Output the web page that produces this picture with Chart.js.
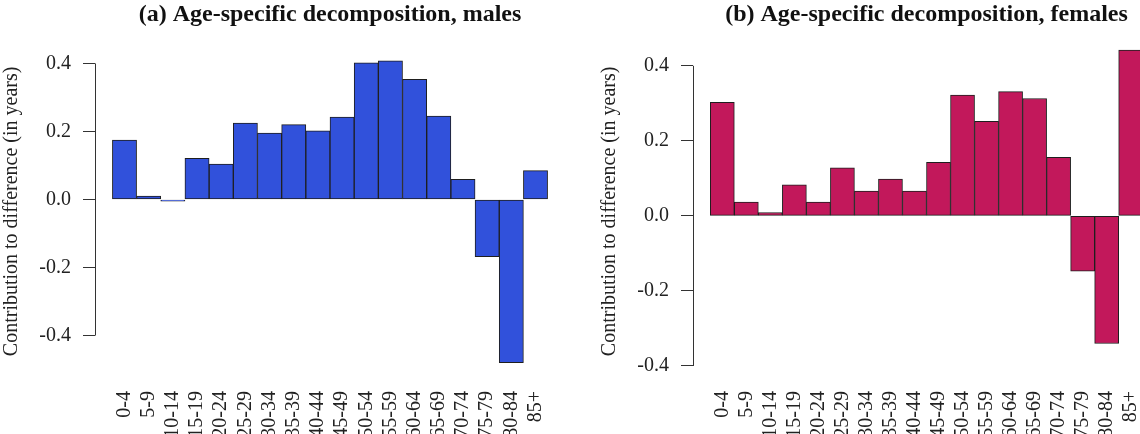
<!DOCTYPE html>
<html>
<head>
<meta charset="utf-8">
<title>Age-specific decomposition</title>
<script src="https://cdn.jsdelivr.net/npm/chart.js@4/dist/chart.umd.min.js"></script>
<style>
	html, body { margin:0; padding:0; background:#fff; overflow:hidden; width:1140px; height:434px; }
	.panel { position:absolute; top:0; height:434px; }
	#males { left:0; }
	#females { left:598px; }
</style>
</head>
<body>
<div class="panel" id="males"><canvas id="maleChart" width="580" height="434"></canvas></div>
<div class="panel" id="females"><canvas id="femaleChart" width="580" height="434"></canvas></div>
<script>
var ageGroups = ['0-4','5-9','10-14','15-19','20-24','25-29','30-34','35-39','40-44',
	'45-49','50-54','55-59','60-64','65-69','70-74','75-79','80-84','85+'];

var maleValues = [0.175, 0.010, -0.005, 0.121, 0.104, 0.225, 0.195, 0.220, 0.202,
	0.242, 0.402, 0.408, 0.353, 0.245, 0.059, -0.168, -0.480, 0.085];

var femaleValues = [0.303, 0.037, 0.009, 0.083, 0.037, 0.128, 0.066, 0.098, 0.066,
	0.143, 0.322, 0.252, 0.331, 0.313, 0.156, -0.147, -0.340, 0.442];

var yTicks = [-0.4, -0.2, 0.0, 0.2, 0.4];

(function(){
	'use strict';

	var serif = '"Liberation Serif", "DejaVu Serif", serif';

	// y axis line only runs between the outer ticks
	var axisLine = {
		id:'axisLine',
		afterDraw:function(chart){
			var y = chart.scales.y;
			var ctx = chart.ctx;
			ctx.save();
			ctx.strokeStyle = '#333';
			ctx.lineWidth = 1;
			ctx.beginPath();
			ctx.moveTo(chart.chartArea.left + 0.5, y.getPixelForValue(yTicks[yTicks.length - 1]));
			ctx.lineTo(chart.chartArea.left + 0.5, y.getPixelForValue(yTicks[0]));
			ctx.stroke();
			ctx.restore();
		}
	};

	function barChart(el, title, values, colour, yMin, yMax, padRight){
		var points = values.map(function(v, i){
			return {x:i + 0.5, y:v};
		});

		return new Chart(el, {
			type:'bar',
			data:{
				datasets:[
					{
						data:points,
						backgroundColor:colour,
						borderColor:'#1e1e1e',
						borderWidth:1,
						borderSkipped:false,
						barPercentage:1,
						categoryPercentage:1,
						clip:false
					}
				]
			},
			options:{
				responsive:false,
				animation:false,
				layout:{padding:{right:padRight}},
				plugins:{
					legend:{display:false},
					tooltip:{enabled:false},
					title:{
						display:true,
						text:title,
						fullSize:false,
						color:'#111',
						font:{family:serif, size:24, weight:'bold'},
						padding:{top:0, bottom:19}
					}
				},
				scales:{
					x:{
						type:'linear',
						offset:false,
						min:-0.72,
						max:ageGroups.length + 0.72,
						grid:{display:false},
						border:{display:false},
						afterBuildTicks:function(scale){
							scale.ticks = ageGroups.map(function(a, i){
								return {value:i + 0.5};
							});
						},
						afterFit:function(scale){
							scale.height = 59;
						},
						ticks:{
							autoSkip:false,
							minRotation:90,
							maxRotation:90,
							padding:8,
							color:'#222',
							font:{family:serif, size:20},
							callback:function(value){
								return ageGroups[Math.floor(value)];
							}
						}
					},
					y:{
						min:yMin,
						max:yMax,
						border:{display:false},
						grid:{
							drawOnChartArea:false,
							drawTicks:true,
							tickLength:12,
							color:'#333'
						},
						afterBuildTicks:function(scale){
							scale.ticks = yTicks.map(function(v){
								return {value:v};
							});
						},
						afterFit:function(scale){
							scale.width = 95;
						},
						ticks:{
							padding:12,
							color:'#222',
							font:{family:serif, size:20},
							callback:function(value){
								return value.toFixed(1);
							}
						},
						title:{
							display:true,
							text:'Contribution to difference (in years)',
							color:'#222',
							font:{family:serif, size:20},
							padding:{top:0, bottom:0}
						}
					}
				}
			},
			plugins:[axisLine]
		});
	}

	barChart(document.getElementById('maleChart'),
		'(a) Age-specific decomposition, males', maleValues, '#3151db', -0.516, 0.446, 15);
	barChart(document.getElementById('femaleChart'),
		'(b) Age-specific decomposition, females', femaleValues, '#c2185b', -0.424, 0.448, 18);
})();
</script>
</body>
</html>
